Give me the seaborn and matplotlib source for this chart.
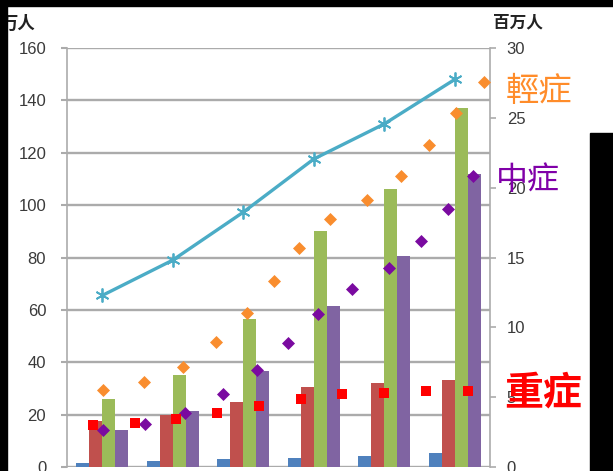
import numpy as np
import pandas as pd
import matplotlib
matplotlib.use("Agg")
import matplotlib.pyplot as plt
import seaborn as sns
from matplotlib.patches import Rectangle

# ---------------- data ----------------
categories = ["1", "2", "3", "4", "5", "6"]
series_names = ["S1", "S2", "S3", "S4"]
blue_vals = [1.5, 2.2, 3.0, 3.6, 4.3, 5.5]
red_vals = [17.5, 20.0, 25.0, 30.5, 32.0, 33.2]
green_vals = [26.0, 35.0, 56.5, 90.0, 106.0, 137.0]
purple_vals = [14.0, 21.5, 36.5, 61.5, 80.5, 112.0]
total_line = [65.5, 79.0, 97.3, 117.6, 131.0, 148.0]

# scatter series on the right axis (百万人), x in category-index units
mild_x = [0.01, 0.59, 1.15, 1.61, 2.05, 2.44, 2.79, 3.23, 3.75, 4.24, 4.63, 5.02, 5.42]
mild_vals = [5.51, 6.08, 7.16, 8.95, 11.02, 13.31, 15.71, 17.75, 19.11, 20.83, 23.05, 25.34, 27.56]
moderate_x = [0.01, 0.60, 1.17, 1.71, 2.20, 2.63, 3.06, 3.54, 4.07, 4.52, 4.91, 5.26]
moderate_vals = [2.65, 3.11, 3.90, 5.26, 6.94, 8.91, 10.95, 12.74, 14.22, 16.21, 18.47, 20.85]
severe_x = [-0.13, 0.46, 1.05, 1.63, 2.22, 2.82, 3.40, 4.00, 4.59, 5.19]
severe_vals = [3.01, 3.13, 3.41, 3.89, 4.37, 4.87, 5.20, 5.32, 5.44, 5.46]

left_ticks = [0, 20, 40, 60, 80, 100, 120, 140, 160]
right_ticks = [0, 5, 10, 15, 20, 25, 30]
left_unit = "万人"
right_unit = "百万人"
label_mild = "輕症"
label_moderate = "中症"
label_severe = "重症"

# ---------------- styling ----------------
sns.set_style("white")
plt.rcParams["font.family"] = ["Liberation Sans", "DejaVu Sans"]
cjk = ["Noto Sans CJK TC", "DejaVu Sans"]

bar_colors = ["#4F81BD", "#C0504D", "#9BBB59", "#8064A2"]
line_color = "#4BACC6"
grid_color = "#ABABAB"
tick_color = "#3A3A3A"

W, H = 613, 471
fig = plt.figure(figsize=(W / 100, H / 100), dpi=100)
fig.patch.set_facecolor("white")
ax = fig.add_axes([67 / W, 4 / H, 423 / W, 419 / H])

df = pd.DataFrame({
    "cat": categories * 4,
    "series": np.repeat(series_names, len(categories)),
    "value": blue_vals + red_vals + green_vals + purple_vals,
})
sns.barplot(data=df, x="cat", y="value", hue="series", order=categories,
            hue_order=series_names, palette=bar_colors, width=0.74, gap=0,
            saturation=1, errorbar=None, legend=False, linewidth=0, ax=ax,
            zorder=2)

sns.lineplot(x=list(range(len(categories))), y=total_line, ax=ax,
             color=line_color, lw=2.4, marker=(6, 2, 0), markersize=10,
             markeredgewidth=1.3, markeredgecolor=line_color, zorder=3)

ax.set_xlim(-0.5, len(categories) - 0.5)
ax.set_ylim(0, 160)
ax.set_yticks(left_ticks)
ax.set_yticklabels([str(t) for t in left_ticks])
ax.set_xticks([])
ax.set_xlabel("")
ax.set_ylabel("")
ax.grid(axis="y", color=grid_color, lw=1.7, zorder=0)
ax.set_axisbelow(True)
for s in ["top", "bottom", "right"]:
    ax.spines[s].set_visible(False)
ax.spines["left"].set_color(grid_color)
ax.spines["left"].set_linewidth(1.2)
ax.tick_params(axis="y", length=4, width=1.5, color=grid_color, pad=11,
               labelsize=12, labelcolor=tick_color)

ax2 = ax.twinx()
sns.scatterplot(x=mild_x, y=mild_vals, ax=ax2, marker="D", s=44,
                color="#F98D2E", linewidth=0, zorder=4)
sns.scatterplot(x=moderate_x, y=moderate_vals, ax=ax2, marker="D", s=44,
                color="#7A0AA0", linewidth=0, zorder=4)
sns.scatterplot(x=severe_x, y=severe_vals, ax=ax2, marker="s", s=52,
                color="#FF0000", linewidth=0, zorder=4)
ax2.set_xlim(-0.5, len(categories) - 0.5)
ax2.set_ylim(0, 30)
ax2.set_yticks(right_ticks)
ax2.set_yticklabels([str(t) for t in right_ticks])
ax2.set_xlabel("")
ax2.set_ylabel("")
for s in ["top", "bottom", "left"]:
    ax2.spines[s].set_visible(False)
ax2.spines["right"].set_color(grid_color)
ax2.spines["right"].set_linewidth(1.2)
ax2.tick_params(axis="y", length=4, width=1.2, color=grid_color, pad=8,
                labelsize=12, labelcolor=tick_color)

# unit labels
fig.text(18 / W, 1 - 24 / H, left_unit, family=cjk, fontsize=12.5,
         fontweight="bold", color="#222222", ha="center", va="center")
fig.text(518 / W, 1 - 22 / H, right_unit, family=cjk, fontsize=12,
         fontweight="bold", color="#222222", ha="center", va="center")

# series annotations
fig.text(539 / W, 1 - 92 / H, label_mild, family=cjk, fontsize=24,
         color="#FF8C2A", ha="center", va="center")
fig.text(528 / W, 1 - 180 / H, label_moderate, family=cjk, fontsize=23,
         color="#8000A8", ha="center", va="center")
fig.text(543 / W, 1 - 393 / H, label_severe, family=cjk, fontsize=28,
         fontweight="bold", color="#FF0000", ha="center", va="center")

# black screenshot borders
for (x0, y0, w, h) in [(0, 0, W, 6), (0, 0, 7, H), (590, 133, W - 590, H - 133)]:
    fig.patches.append(Rectangle((x0 / W, 1 - (y0 + h) / H), w / W, h / H,
                                 transform=fig.transFigure, color="black",
                                 zorder=10))

fig.savefig("out.png", dpi=100)
